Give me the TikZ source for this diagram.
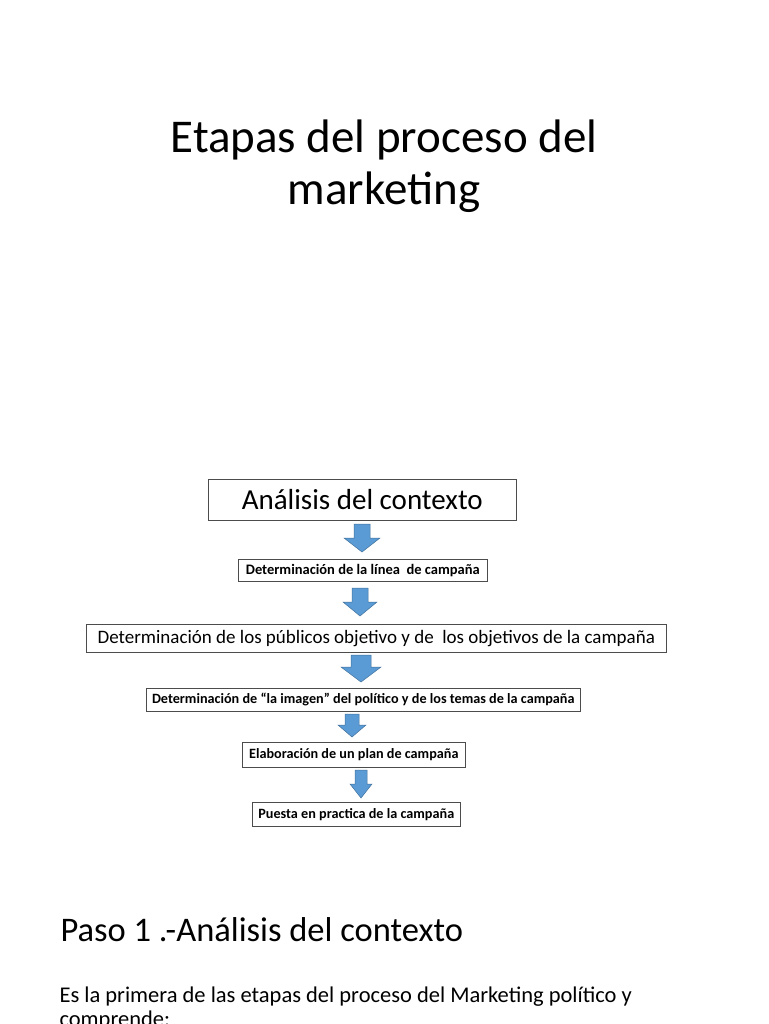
\documentclass[tikz,border=0pt]{standalone}
\usepackage{fontspec}
\setmainfont{Carlito}
\begin{document}
\begin{tikzpicture}[x=1pt,y=-1pt,
 box/.style={draw=black!70,line width=0.6pt,fill=white,inner sep=0pt,anchor=north west},
 blk/.style={fill={rgb,255:red,91;green,155;blue,213},draw={rgb,255:red,65;green,113;blue,156},line width=0.5pt}]
\useasboundingbox (0,0) rectangle (768,1024);
\clip (0,0) rectangle (768,1024);
\node[font=\fontsize{47}{52}\selectfont,align=center] (title) at (384,166) {Etapas del proceso del\\marketing};
\node[box,minimum width=308,minimum height=41] (b1) at (208,479) {};
\node[font=\fontsize{29}{32}\selectfont] at (b1.center) {Análisis del contexto};
\node[box,minimum width=249,minimum height=22] (b2) at (238,559) {};
\node[font=\fontsize{14.5}{16}\selectfont\bfseries] at (b2.center) {Determinación de la línea\ \ de campaña};
\node[box,minimum width=580,minimum height=28] (b3) at (86,624) {};
\node[font=\fontsize{19}{22}\selectfont] at (b3.center) {Determinación de los públicos objetivo y de\ \ los objetivos de la campaña};
\node[box,minimum width=434,minimum height=23] (b4) at (146,688) {};
\node[font=\fontsize{14.2}{16}\selectfont\bfseries] at (b4.center) {Determinación de “la imagen” del político y de los temas de la campaña};
\node[box,minimum width=223,minimum height=25] (b5) at (242,742) {};
\node[font=\fontsize{14.2}{16}\selectfont\bfseries] at (b5.center) {Elaboración de un plan de campaña};
\node[box,minimum width=208,minimum height=24] (b6) at (252,802) {};
\node[font=\fontsize{14.2}{16}\selectfont\bfseries] at (b6.center) {Puesta en practica de la campaña};
\newcommand\barrow[6]{\draw[blk] (#1-#5,#2) -- (#1+#5,#2) -- (#1+#5,#3) -- (#1+#6,#3) -- (#1,#4) -- (#1-#6,#3) -- (#1-#5,#3) -- cycle;}
\barrow{362}{524}{538}{552}{8}{18}
\barrow{360}{588}{602}{616}{8}{17}
\barrow{361}{655}{667}{682}{10}{20}
\barrow{352}{714}{725}{737}{7}{14}
\barrow{361}{770}{784}{798}{6}{11}
\node[anchor=west,font=\fontsize{34.5}{40}\selectfont] (p1) at (57,930) {Paso 1 .-Análisis del contexto};
\node[anchor=north west,align=left,font=\fontsize{22.5}{24}\selectfont] (p2) at (56,983) {Es la primera de las etapas del proceso del Marketing político y\\comprende:};
\end{tikzpicture}
\end{document}
